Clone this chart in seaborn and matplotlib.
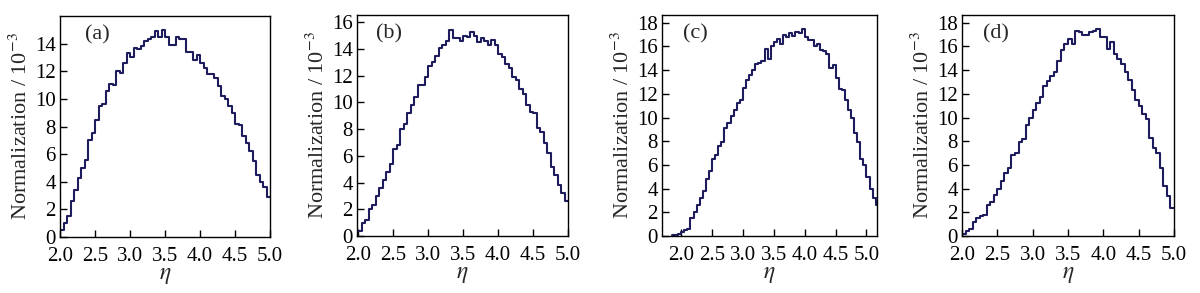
import numpy as np
import pandas as pd
import matplotlib
matplotlib.use("Agg")
import matplotlib.pyplot as plt
import seaborn as sns

# ---- data (bin width 0.05) ----
bin_width = 0.05
start_a = 2.0
vals_a = [0.5, 1.0, 1.5, 2.6, 3.4, 4.3, 5.0, 5.6, 7.0, 7.5,
          8.5, 9.5, 9.6, 10.6, 11.1, 11.0, 12.0, 11.9, 12.6, 13.3,
          13.0, 13.7, 13.6, 13.8, 14.2, 14.3, 14.5, 14.9, 14.5, 15.0,
          14.5, 13.9, 13.9, 14.5, 14.3, 14.3, 13.4, 13.4, 12.8, 13.2,
          12.6, 12.2, 11.8, 11.8, 11.5, 10.9, 10.2, 10.0, 9.5, 9.0,
          8.2, 8.1, 7.3, 6.8, 6.2, 5.5, 4.5, 4.0, 3.6, 2.9]
start_b = 2.0
vals_b = [0.4, 1.0, 1.2, 2.0, 2.3, 3.0, 3.6, 4.2, 4.8, 5.4,
          6.5, 6.8, 8.0, 8.4, 9.2, 9.8, 10.4, 11.3, 11.3, 11.9,
          12.7, 13.0, 13.5, 14.1, 14.3, 14.6, 15.4, 14.8, 14.8, 14.6,
          15.0, 14.9, 15.3, 15.0, 14.5, 14.8, 14.6, 14.3, 14.7, 14.3,
          13.6, 13.4, 12.9, 12.6, 11.9, 11.7, 11.0, 10.6, 9.8, 9.3,
          9.2, 8.1, 7.8, 7.0, 6.2, 5.2, 4.6, 3.8, 3.2, 2.6]
start_c = 1.85
vals_c = [0.05, 0.1, 0.2,
          0.3, 0.5, 0.6, 1.5, 2.0, 2.6, 3.2, 3.8, 4.8, 5.5,
          6.5, 6.8, 7.6, 7.9, 9.1, 9.5, 10.1, 10.6, 11.2, 11.5,
          12.5, 13.2, 13.6, 14.0, 14.5, 14.6, 14.8, 15.8, 14.9, 16.0,
          16.4, 16.6, 16.2, 17.0, 16.8, 17.1, 16.9, 17.2, 17.1, 17.5,
          16.8, 16.5, 16.5, 16.0, 16.2, 15.7, 15.6, 15.4, 14.2, 14.4,
          13.3, 12.4, 12.3, 11.5, 10.6, 10.0, 8.7, 7.9, 6.5, 6.0,
          5.0, 4.0, 3.2, 2.6]
start_d = 2.0
vals_d = [0.2, 0.4, 0.6, 1.2, 1.5, 1.7, 1.8, 2.6, 2.9, 3.5,
          4.0, 4.6, 5.3, 5.7, 6.8, 7.0, 7.9, 8.2, 9.4, 10.0,
          10.6, 11.2, 11.7, 12.7, 13.1, 13.5, 13.8, 14.8, 15.7, 16.2,
          16.6, 16.2, 17.3, 17.2, 17.0, 17.0, 17.2, 17.3, 17.5, 16.8,
          16.8, 15.8, 16.4, 15.4, 14.9, 14.5, 13.8, 13.2, 12.3, 11.5,
          11.0, 10.3, 9.9, 8.3, 7.4, 7.0, 5.7, 4.2, 3.4, 2.4]

panel_labels = ["(a)", "(b)", "(c)", "(d)"]
xticks = [2.0, 2.5, 3.0, 3.5, 4.0, 4.5, 5.0]
yticks_list = [[0, 2, 4, 6, 8, 10, 12, 14],
               list(range(0, 17, 2)),
               list(range(0, 19, 2)),
               list(range(0, 19, 2))]

# ---- style ----
sns.set_style("ticks")
plt.rcParams["font.family"] = ["Liberation Serif", "DejaVu Serif"]
plt.rcParams["mathtext.fontset"] = "stix"
plt.rcParams["axes.linewidth"] = 1.0

fig = plt.figure(figsize=(12, 2.93), dpi=100)

positions = [
    [60 / 1200, 1 - 237 / 293, 210 / 1200, 221 / 293],
    [357 / 1200, 1 - 236 / 293, 211 / 1200, 221 / 293],
    [662 / 1200, 1 - 236 / 293, 215 / 1200, 221 / 293],
    [962 / 1200, 1 - 236 / 293, 212 / 1200, 221 / 293],
]
xlims = [(2.0, 5.0), (1.985, 5.0), (1.69, 5.17), (2.0, 5.0)]
ylims = [(0, 16.0), (0, 16.55), (0, 18.65), (0, 18.65)]
label_x = [0.12, 0.088, 0.10, 0.10]

series = [(start_a, vals_a), (start_b, vals_b), (start_c, vals_c), (start_d, vals_d)]
line_color = "#1d1d5e"

for i, (start, vals) in enumerate(series):
    ax = fig.add_axes(positions[i])
    n = len(vals)
    edges = start + bin_width * np.arange(n + 1)
    heights = list(vals) + [vals[-1]]
    df = pd.DataFrame({"eta": edges, "h": heights})
    sns.lineplot(data=df, x="eta", y="h", drawstyle="steps-post",
                 estimator=None, sort=False, color=line_color,
                 linewidth=1.5, ax=ax)
    ax.set_xlim(*xlims[i])
    ax.set_ylim(*ylims[i])
    ax.set_xticks(xticks)
    ax.set_xticklabels([f"{t:.1f}" for t in xticks])
    ax.set_yticks(yticks_list[i])
    ax.tick_params(direction="in", length=5, width=1, labelsize=15,
                   colors="black")
    ax.tick_params(axis="x", pad=7.5)
    ax.tick_params(axis="y", pad=3)
    ax.set_xlabel(r"$\eta$", fontsize=17, labelpad=-1)
    ax.set_ylabel(r"Normalization / 10$^{-3}$", fontsize=16, labelpad=2)
    for s in ax.spines.values():
        s.set_visible(True)
        s.set_color("black")
    ax.text(label_x[i], 0.915, panel_labels[i], transform=ax.transAxes,
            fontsize=16, va="center", ha="left")

fig.savefig("out.png", dpi=100)
